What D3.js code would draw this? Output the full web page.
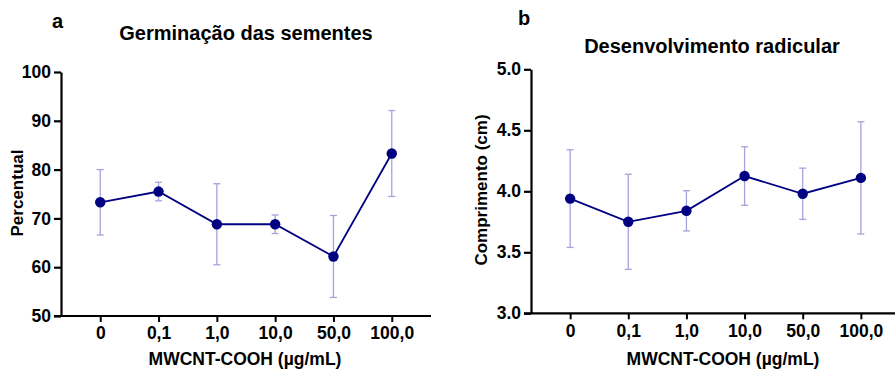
<!DOCTYPE html>
<html>
<head>
<meta charset="utf-8">
<script src="https://cdn.jsdelivr.net/npm/d3@7"></script>
<style>
  body { margin: 0; background: #fff; }
  text { font-family: "Liberation Sans", Arial, sans-serif; font-weight: bold; fill: #000; }
</style>
</head>
<body>
<script>
var w = 895, h = 371;

// data
var doses = ["0", "0,1", "1,0", "10,0", "50,0", "100,0"];
var germMean = [73.3, 75.5, 68.8, 68.8, 62.2, 83.3];
var germSD = [6.7, 1.9, 8.3, 1.9, 8.4, 8.8];
var rootMean = [3.94, 3.75, 3.84, 4.125, 3.98, 4.11];
var rootSD = [0.40, 0.39, 0.165, 0.24, 0.21, 0.46];
var germTicks = [50, 60, 70, 80, 90, 100];
var rootTicks = [3.0, 3.5, 4.0, 4.5, 5.0];

var svg = d3.select("body").append("svg")
    .attr("width", w)
    .attr("height", h);

var navy = "#000080",
    barColor = "#a3a3de";

function panel(opt)
{
    var g = svg.append("g");

    var x = d3.scalePoint().domain(doses).range([opt.x0, opt.x1]).padding(opt.pad);
    var y = d3.scaleLinear().domain(opt.domain).range([opt.yBottom, opt.yTop]);

    // y axis
    var yAxis = d3.axisLeft(y).tickValues(opt.ticks).tickFormat(opt.fmt)
        .tickSize(7).tickSizeOuter(0).tickPadding(3);
    var ya = g.append("g").attr("transform", "translate(" + opt.x0 + ",0)").call(yAxis);
    ya.select(".domain").attr("stroke-width", 2.2);
    ya.selectAll(".tick line").attr("stroke-width", 2.2);
    ya.selectAll("text").style("font-size", "17.5px").attr("fill", "#000");

    // x axis
    var xAxis = d3.axisBottom(x).tickSize(6).tickSizeOuter(0).tickPadding(5);
    var xa = g.append("g").attr("transform", "translate(0," + opt.yBottom + ")").call(xAxis);
    xa.select(".domain").remove();
    xa.append("line")
        .attr("x1", opt.x0 - 7).attr("x2", opt.x1)
        .attr("stroke", "#000").attr("stroke-width", 2.2);
    xa.selectAll(".tick line").attr("stroke-width", 2);
    xa.selectAll("text").style("font-size", "17.5px").attr("fill", "#000");

    var pts = doses.map(function(d, i) { return { k: d, m: opt.mean[i], s: opt.sd[i] }; });

    // error bars
    var eb = g.append("g").selectAll("g").data(pts).enter().append("g")
        .attr("stroke", barColor).attr("stroke-width", 1.3);
    eb.append("line")
        .attr("x1", function(d) { return x(d.k); })
        .attr("x2", function(d) { return x(d.k); })
        .attr("y1", function(d) { return y(d.m - d.s); })
        .attr("y2", function(d) { return y(d.m + d.s); });
    eb.append("line")
        .attr("x1", function(d) { return x(d.k) - 3.5; })
        .attr("x2", function(d) { return x(d.k) + 3.5; })
        .attr("y1", function(d) { return y(d.m + d.s); })
        .attr("y2", function(d) { return y(d.m + d.s); });
    eb.append("line")
        .attr("x1", function(d) { return x(d.k) - 3.5; })
        .attr("x2", function(d) { return x(d.k) + 3.5; })
        .attr("y1", function(d) { return y(d.m - d.s); })
        .attr("y2", function(d) { return y(d.m - d.s); });

    // mean line + markers
    var line = d3.line().x(function(d) { return x(d.k); }).y(function(d) { return y(d.m); });
    g.append("path").datum(pts)
        .attr("d", line)
        .attr("fill", "none")
        .attr("stroke", navy)
        .attr("stroke-width", 1.8);
    g.append("g").selectAll("circle").data(pts).enter().append("circle")
        .attr("cx", function(d) { return x(d.k); })
        .attr("cy", function(d) { return y(d.m); })
        .attr("r", 5.2)
        .attr("fill", navy);

    // texts
    g.append("text").text(opt.letter)
        .attr("x", opt.letterX).attr("y", opt.letterY)
        .style("font-size", "20px");
    g.append("text").text(opt.title)
        .attr("x", opt.titleX).attr("y", opt.titleY)
        .attr("text-anchor", "middle")
        .style("font-size", "20px");
    g.append("text").text("MWCNT-COOH (µg/mL)")
        .attr("x", opt.xTitleX).attr("y", 365)
        .attr("text-anchor", "middle")
        .style("font-size", "17.5px");
    g.append("text").text(opt.yTitle)
        .attr("transform", "translate(" + opt.yTitleX + "," + opt.yTitleY + ") rotate(-90)")
        .attr("text-anchor", "middle")
        .style("font-size", "17px");
}

panel({
    x0: 61, x1: 431, pad: 0.673,
    yTop: 72, yBottom: 316,
    domain: [50, 100], ticks: germTicks, fmt: d3.format("d"),
    mean: germMean, sd: germSD,
    letter: "a", letterX: 52, letterY: 28,
    title: "Germinação das sementes", titleX: 246, titleY: 40,
    xTitleX: 245,
    yTitle: "Percentual", yTitleX: 23, yTitleY: 193
});

panel({
    x0: 531, x1: 900, pad: 0.673,
    yTop: 69.3, yBottom: 313.3,
    domain: [3, 5], ticks: rootTicks, fmt: d3.format(".1f"),
    mean: rootMean, sd: rootSD,
    letter: "b", letterX: 518, letterY: 25,
    title: "Desenvolvimento radicular", titleX: 712, titleY: 53,
    xTitleX: 723,
    yTitle: "Comprimento (cm)", yTitleX: 487, yTitleY: 190
});
</script>
</body>
</html>
